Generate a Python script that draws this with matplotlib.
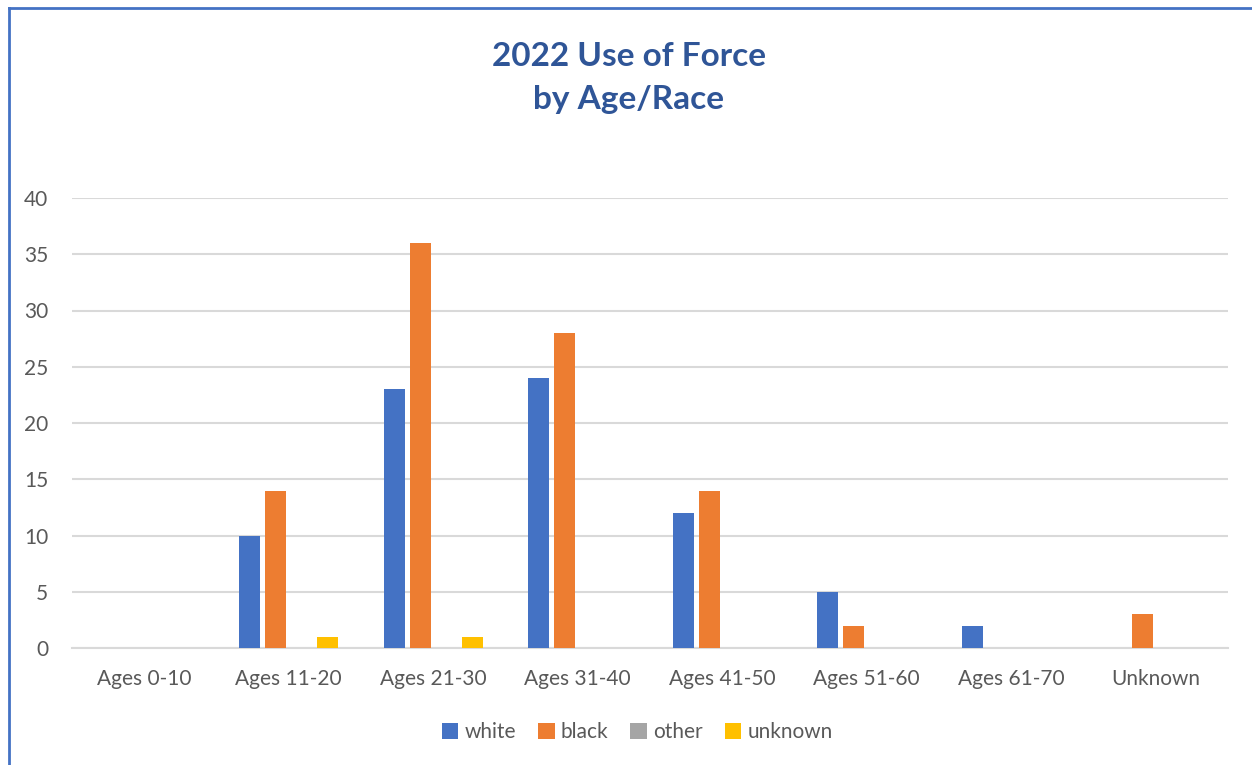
import numpy as np
import matplotlib.pyplot as plt
from matplotlib.patches import Patch
from matplotlib.lines import Line2D

categorias = ['Ages 0-10', 'Ages 11-20', 'Ages 21-30', 'Ages 31-40',
              'Ages 41-50', 'Ages 51-60', 'Ages 61-70', 'Unknown']
white = [0, 10, 23, 24, 12, 5, 2, 0]
black = [0, 14, 36, 28, 14, 2, 0, 3]
other = [0, 0, 0, 0, 0, 0, 0, 0]
unknown = [0, 1, 1, 0, 0, 0, 0, 0]
series_nomes = ['white', 'black', 'other', 'unknown']
cores = ['#4472C4', '#ED7D31', '#A5A5A5', '#FFC000']
yticks = [0, 5, 10, 15, 20, 25, 30, 35, 40]

plt.rcParams['font.family'] = ['Lato', 'DejaVu Sans']

fig = plt.figure(figsize=(12.52, 7.65), dpi=100)
ax = fig.add_axes([72 / 1252, 1 - 648 / 765, 1156 / 1252, 450 / 765])

x = np.arange(len(categorias))
largura = 0.145
offsets = [-0.27, -0.09, 0.09, 0.27]
for valores, off, cor, nome in zip([white, black, other, unknown], offsets, cores, series_nomes):
    ax.bar(x + off, valores, width=largura, color=cor, label=nome, zorder=3)

ax.set_xlim(-0.5, len(categorias) - 0.5)
ax.set_ylim(0, 40)
ax.set_yticks(yticks)
ax.set_xticks(x)
ax.set_xticklabels(categorias)
ax.tick_params(axis='both', length=0, labelsize=15, labelcolor='#595959')
ax.tick_params(axis='x', pad=15)
ax.tick_params(axis='y', pad=17)
ax.grid(axis='y', color='#D9D9D9', linewidth=1.5, zorder=0)
for lado in ['top', 'right', 'left']:
    ax.spines[lado].set_visible(False)
ax.spines['bottom'].set_color('#D9D9D9')
ax.spines['bottom'].set_linewidth(1.5)

fig.text(0.502, 1 - 78 / 765, '2022 Use of Force\nby Age/Race', ha='center', va='center',
         fontsize=24, fontweight='bold', color='#2F5597', linespacing=1.55)

handles = [Patch(facecolor=c, label=n) for c, n in zip(cores, series_nomes)]
fig.legend(handles=handles, loc='center', bbox_to_anchor=(0.509, 1 - 732 / 765), ncol=4,
           frameon=False, fontsize=15, labelcolor='#595959', handlelength=0.8,
           handleheight=0.8, handletextpad=0.3, columnspacing=1.05)

# moldura azul (so aparecem os lados esquerdo e superior)
fig.add_artist(Line2D([8.5 / 1252, 8.5 / 1252], [0, 1 - 8 / 765], color='#4472C4',
                      linewidth=2, transform=fig.transFigure))
fig.add_artist(Line2D([8.5 / 1252, 1], [1 - 8 / 765, 1 - 8 / 765], color='#4472C4',
                      linewidth=2, transform=fig.transFigure))

plt.savefig('out.png', dpi=100)
